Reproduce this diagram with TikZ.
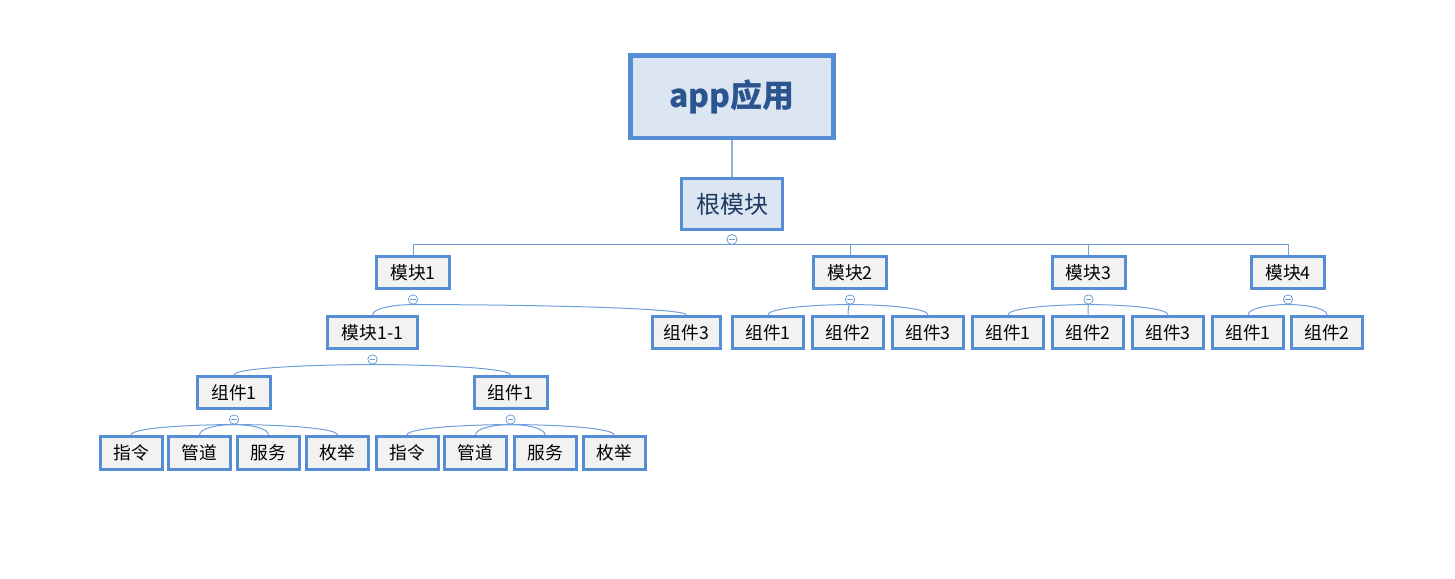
\documentclass[tikz,border=0pt]{standalone}
\usepackage{fontspec}
\setmainfont{Noto Sans CJK SC}
\usetikzlibrary{calc}

\definecolor{edge}{HTML}{558ED5}
\definecolor{boxfill}{HTML}{F2F2F2}
\definecolor{headfill}{HTML}{DCE6F2}
\definecolor{linkcol}{HTML}{6F9FDA}
\definecolor{headtext}{HTML}{2B5590}
\definecolor{roottext}{HTML}{1F3B63}

\tikzset{
  box/.style={draw=edge, fill=boxfill, line width=2.25pt, inner sep=0pt,
    minimum height=24pt, font=\fontsize{13.3}{15}\selectfont},
  modbox/.style={box, minimum width=54.75pt},
  subbox/.style={box, minimum width=67.5pt},
  partbox/.style={box, minimum width=53.25pt},
  leafbox/.style={box, minimum width=46.5pt, minimum height=24.75pt},
  headbox/.style={draw=edge, fill=headfill, line width=3.4pt, inner sep=0pt,
    minimum width=152.6pt, minimum height=61.9pt, text=headtext,
    font=\fontsize{24}{28}\selectfont\bfseries},
  rootbox/.style={draw=edge, fill=headfill, line width=1.9pt, inner sep=0pt,
    minimum width=76.1pt, minimum height=38.6pt, text=roottext,
    font=\fontsize{18}{22}\selectfont},
  fold/.style={circle, draw=linkcol, fill=white, line width=0.6pt,
    minimum size=7pt, inner sep=0pt,
    path picture={\draw[linkcol, line width=0.6pt]
      ([xshift=-2pt]path picture bounding box.center) --
      ([xshift=2pt]path picture bounding box.center);}},
  wire/.style={draw=linkcol, line width=0.75pt},
}

% curved branch from a fold marker down to the top of a child
\newcommand\branch[2]{%
  \draw[wire] (#1.south) .. controls ($(#1.south)!0.4!(#1.south -| #2.north)$)
    and ($(#1.south -| #2.north)!0.3!(#2.north)$) .. (#2.north);}

\begin{document}
\begin{tikzpicture}[x=0.75pt, y=0.75pt]
\useasboundingbox (0,0) rectangle (1455,-578);

% top levels
\node[headbox] (app) at (732,-96.5) {app应用};
\node[rootbox] (root) at (732,-204) {根模块};
\draw[draw=linkcol!80, line width=1.1pt] (app.south) -- (root.north);

% modules
\node[modbox] (m1) at (413,-272.5) {模块1};
\node[modbox] (m2) at (850,-272.5) {模块2};
\node[modbox] (m3) at (1088.5,-272.5) {模块3};
\node[modbox] (m4) at (1288,-272.5) {模块4};

\node[fold, minimum size=7.5pt] (rc) at ($(root.south)+(0,-8.5)$) {};
\draw[wire] (m1.north) -- (m1.north |- rc.south) -| (m4.north);
\draw[wire] (m2.north) -- (m2.north |- rc.south);
\draw[wire] (m3.north) -- (m3.north |- rc.south);

% module 1
\node[subbox] (m11) at (372.5,-332.5) {模块1-1};
\node[box, minimum width=51pt] (m1p3) at (686.5,-332.5) {组件3};
\node[fold] (m1c) at ($(m1.south)+(0,-9.5)$) {};
\branch{m1c}{m11}
\branch{m1c}{m1p3}

% module 2
\node[partbox] (m2p1) at (768,-332.5) {组件1};
\node[partbox] (m2p2) at (848,-332.5) {组件2};
\node[partbox] (m2p3) at (928,-332.5) {组件3};
\node[fold] (m2c) at ($(m2.south)+(0,-9.5)$) {};
\branch{m2c}{m2p1}
\branch{m2c}{m2p2}
\branch{m2c}{m2p3}

% module 3
\node[partbox] (m3p1) at (1008,-332.5) {组件1};
\node[partbox] (m3p2) at (1088,-332.5) {组件2};
\node[partbox] (m3p3) at (1168,-332.5) {组件3};
\node[fold] (m3c) at ($(m3.south)+(0,-9.5)$) {};
\branch{m3c}{m3p1}
\branch{m3c}{m3p2}
\branch{m3c}{m3p3}

% module 4
\node[partbox] (m4p1) at (1248,-332.5) {组件1};
\node[partbox] (m4p2) at (1327,-332.5) {组件2};
\node[fold] (m4c) at ($(m4.south)+(0,-9.5)$) {};
\branch{m4c}{m4p1}
\branch{m4c}{m4p2}

% module 1-1
\node[modbox] (ga) at (234,-392.5) {组件1};
\node[modbox] (gb) at (510.5,-392.5) {组件1};
\node[fold] (m11c) at ($(m11.south)+(0,-9.5)$) {};
\branch{m11c}{ga}
\branch{m11c}{gb}

% leaves of the first component
\node[leafbox] (a1) at (131,-453) {指令};
\node[leafbox] (a2) at (199.5,-453) {管道};
\node[leafbox] (a3) at (268.5,-453) {服务};
\node[leafbox] (a4) at (337.5,-453) {枚举};
\node[fold] (gac) at ($(ga.south)+(0,-9.5)$) {};
\branch{gac}{a1}
\branch{gac}{a2}
\branch{gac}{a3}
\branch{gac}{a4}

% leaves of the second component
\node[leafbox] (b1) at (407,-453) {指令};
\node[leafbox] (b2) at (475.5,-453) {管道};
\node[leafbox] (b3) at (545,-453) {服务};
\node[leafbox] (b4) at (614,-453) {枚举};
\node[fold] (gbc) at ($(gb.south)+(0,-9.5)$) {};
\branch{gbc}{b1}
\branch{gbc}{b2}
\branch{gbc}{b3}
\branch{gbc}{b4}
\end{tikzpicture}
\end{document}
